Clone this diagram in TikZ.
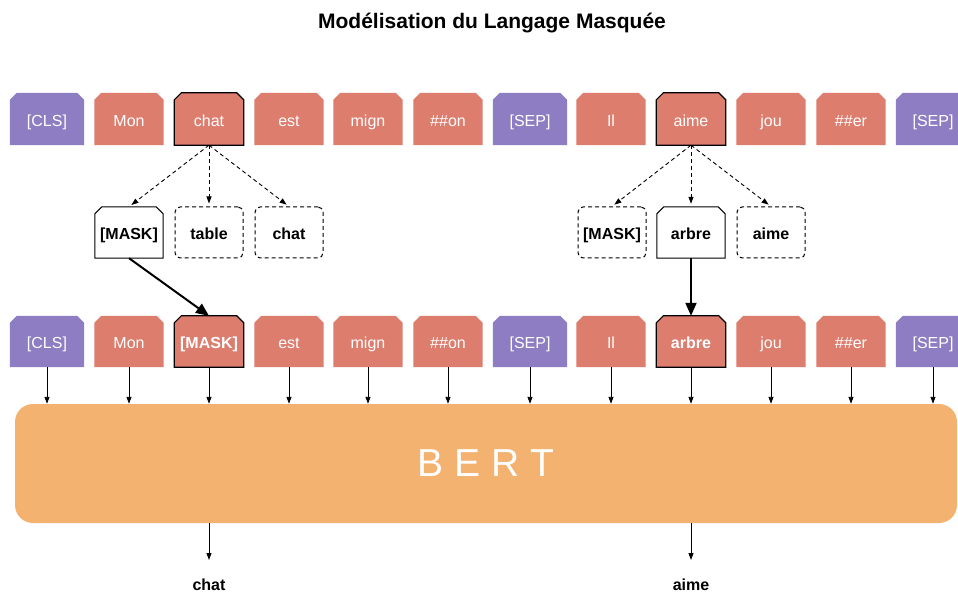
\documentclass[tikz,border=0pt]{standalone}
\usepackage{fontspec}
\setmainfont{Liberation Sans}
\usetikzlibrary{arrows.meta,backgrounds}
\definecolor{tokred}{RGB}{220,125,110}
\definecolor{tokpur}{RGB}{142,125,194}
\definecolor{bertor}{RGB}{244,178,112}
\newcommand\tokfont{\fontsize{16}{19}\selectfont}
\newcommand\chamfer[2]{%
  \begin{pgfonlayer}{background}
  \path[#1] (#2.south west) -- ([yshift=-7pt]#2.north west) -- ([xshift=7pt]#2.north west)
     -- ([xshift=-7pt]#2.north east) -- ([yshift=-7pt]#2.north east) -- (#2.south east) -- cycle;
  \end{pgfonlayer}}
\tikzset{
  tok/.style={minimum height=52pt, inner sep=0pt, text=white, font=\tokfont, text height=14.5pt, text depth=0pt},
  redfill/.style={fill=tokred},
  purfill/.style={fill=tokpur},
  hlfill/.style={fill=tokred, draw=black, line width=1.2pt},
  mid/.style={minimum width=68pt, minimum height=51pt, inner sep=0pt, font=\tokfont\bfseries, text height=15pt, text depth=0pt},
  dbox/.style={mid, draw, dash pattern=on 4pt off 3pt, rounded corners=5pt, line width=1pt},
  solidbox/.style={fill=white, draw=black, line width=1pt},
  arr/.style={-{Triangle[length=7pt,width=5pt]}, line width=0.9pt},
  darr/.style={arr, dash pattern=on 4pt off 3pt, shorten >=3pt},
  tarr/.style={-{Triangle[length=13pt,width=11pt]}, line width=2pt},
  outlbl/.style={font=\tokfont\bfseries, anchor=base, inner sep=0pt}
}
\begin{document}
\begin{tikzpicture}[x=1pt,y=-1pt]
\useasboundingbox (0,0) rectangle (958,593);
\begin{pgfonlayer}{background}
  \fill[white] (0,0) rectangle (958,593);
\end{pgfonlayer}

\node[font=\bfseries\fontsize{21}{25}\selectfont, anchor=base, inner sep=0pt] (title) at (492,28.5) {Modélisation du Langage Masquée};

% top row
\foreach \n/\x/\w/\s/\t in {
  a/47/74/purfill/{[CLS]}, b/129/69/redfill/Mon, c/209/69/hlfill/chat,
  d/289/69/redfill/est, e/368/69/redfill/mign, f/448/69/redfill/{\#\#on},
  g/530/74/purfill/{[SEP]}, h/611/69/redfill/Il, i/691/69/hlfill/aime,
  j/771/69/redfill/jou, k/851/69/redfill/{\#\#er}, l/933/74/purfill/{[SEP]}}{
  \node[tok, minimum width=\w pt] (\n1) at (\x,119) {\t};
  \chamfer{\s}{\n1}
}

% second row
\foreach \n/\x/\w/\s/\t in {
  a/47/74/purfill/{[CLS]}, b/129/69/redfill/Mon, c/209/69/hlfill/{\textbf{[MASK]}},
  d/289/69/redfill/est, e/368/69/redfill/mign, f/448/69/redfill/{\#\#on},
  g/530/74/purfill/{[SEP]}, h/611/69/redfill/Il, i/691/69/hlfill/{\textbf{arbre}},
  j/771/69/redfill/jou, k/851/69/redfill/{\#\#er}, l/933/74/purfill/{[SEP]}}{
  \node[tok, minimum height=51pt, minimum width=\w pt] (\n2) at (\x,341.5) {\t};
  \chamfer{\s}{\n2}
}

% middle candidates
\node[mid] (m1) at (129,232.5) {[MASK]};
\chamfer{solidbox}{m1}
\node[dbox] (m2) at (209,232.5) {table};
\node[dbox] (m3) at (289,232.5) {chat};
\node[dbox] (m4) at (612,232.5) {[MASK]};
\node[mid] (m5) at (691,232.5) {arbre};
\chamfer{solidbox}{m5}
\node[dbox] (m6) at (771,232.5) {aime};

% BERT
\node[fill=bertor, rounded corners=18pt, minimum width=942pt, minimum height=119pt,
      inner sep=0pt, text=white, font=\fontsize{39}{44}\selectfont] (bert) at (486,463.5) {B E R T};

% dashed arrows
\foreach \m in {m1,m2,m3}{\draw[darr] (c1.south) -- (\m.north);}
\foreach \m in {m4,m5,m6}{\draw[darr] (i1.south) -- (\m.north);}

% thick arrows
\draw[tarr] (m1.south) -- (c2.north);
\draw[tarr] (m5.south) -- (i2.north);

% into BERT
\foreach \n in {a,b,c,d,e,f,g,h,i,j,k,l}{\draw[arr] (\n2.south) -- (\n2.south |- bert.north);}

% outputs
\node[outlbl] (o1) at (209,590) {chat};
\node[outlbl] (o2) at (691,590) {aime};
\coordinate (o1t) at (209,560);
\coordinate (o2t) at (691,560);
\draw[arr] (bert.south -| o1t) -- (o1t);
\draw[arr] (bert.south -| o2t) -- (o2t);
\end{tikzpicture}
\end{document}
